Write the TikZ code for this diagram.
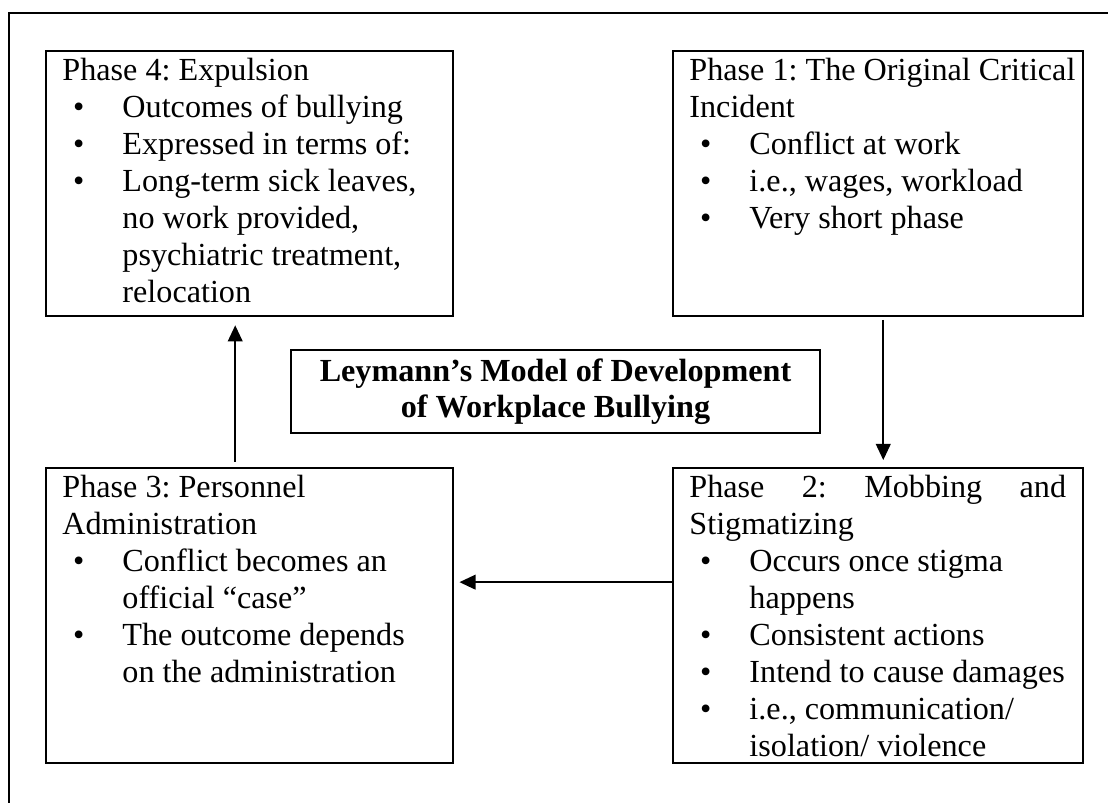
\documentclass[tikz,border=0pt]{standalone}
\usepackage{fontspec}
\setmainfont{Liberation Serif}
\usetikzlibrary{arrows.meta}

% text of a phase box, set from its first baseline
\newcommand{\phasetxt}[1]{\parbox[t]{146pt}{\fontsize{12pt}{13.8pt}\selectfont\frenchspacing #1}}
% one bullet point
\newcommand{\bul}[1]{\par\hangindent=22.4pt\hangafter=1\noindent\makebox[22.4pt][l]{\hspace{4pt}\textbullet}#1}

\tikzset{
  phasebox/.style={draw, line width=0.9pt, anchor=north west, inner sep=0pt},
  phasetext/.style={anchor=base west, inner sep=0pt},
  flow/.style={line width=0.6pt, -{Triangle[length=6pt,width=5.5pt]}}
}

\begin{document}
\begin{tikzpicture}[x=0.373pt, y=-0.373pt]
    \useasboundingbox (0,0) rectangle (1108,803);
    % outer frame
    \draw[line width=0.9pt] (9,803) -- (9,13) -- (1108,13);

    % Phase 4
    \node[phasebox, minimum width=151.8pt, minimum height=98.8pt] (p4) at (45,50) {};
    \node[phasetext] (p4t) at ([xshift=6.3pt, yshift=-11.2pt]p4.north west) {\phasetxt{Phase 4: Expulsion
        \bul{Outcomes of bullying}
        \bul{Expressed in terms of:}
        \bul{Long-term sick leaves,\\no work provided,\\psychiatric treatment,\\relocation}}};

    % Phase 1
    \node[phasebox, minimum width=152.9pt, minimum height=98.8pt] (p1) at (672,50) {};
    \node[phasetext] (p1t) at ([xshift=6.3pt, yshift=-11.2pt]p1.north west) {\phasetxt{Phase 1: The Original Critical\\Incident
        \bul{Conflict at work}
        \bul{i.e., wages, workload}
        \bul{Very short phase}}};

    % Phase 3
    \node[phasebox, minimum width=151.8pt, minimum height=110pt] (p3) at (45,467) {};
    \node[phasetext] (p3t) at ([xshift=6.3pt, yshift=-11.2pt]p3.north west) {\phasetxt{Phase 3: Personnel\\Administration
        \bul{Conflict becomes an\\official ``case''}
        \bul{The outcome depends\\on the administration}}};

    % Phase 2
    \node[phasebox, minimum width=152.9pt, minimum height=110pt] (p2) at (672,467) {};
    \node[phasetext] (p2t) at ([xshift=6.3pt, yshift=-11.2pt]p2.north west) {\phasetxt{\makebox[140.5pt][s]{Phase 2: Mobbing and}\\Stigmatizing
        \bul{Occurs once stigma\\happens}
        \bul{Consistent actions}
        \bul{Intend to cause damages}
        \bul{i.e., communication/\\isolation/ violence}}};

    % title
    \node[draw, line width=0.9pt, minimum width=197.3pt, minimum height=28pt, align=center,
        font=\bfseries\fontsize{12pt}{13.4pt}\selectfont] (title) at (555.5,391.5)
        {Leymann’s Model of Development\\of Workplace Bullying};

    % cycle
    \draw[flow, shorten <=1pt, shorten >=2.6pt] ([xshift=1.9pt]p1.south) -- ([xshift=1.9pt]p2.north);
    \draw[flow, shorten >=1.9pt] ([yshift=12.5pt]p2.west) -- ([yshift=12.5pt]p3.east);
    \draw[flow, shorten <=1.9pt, shorten >=3pt] ([xshift=-5.4pt]p3.north) -- ([xshift=-5.4pt]p4.south);
\end{tikzpicture}
\end{document}
